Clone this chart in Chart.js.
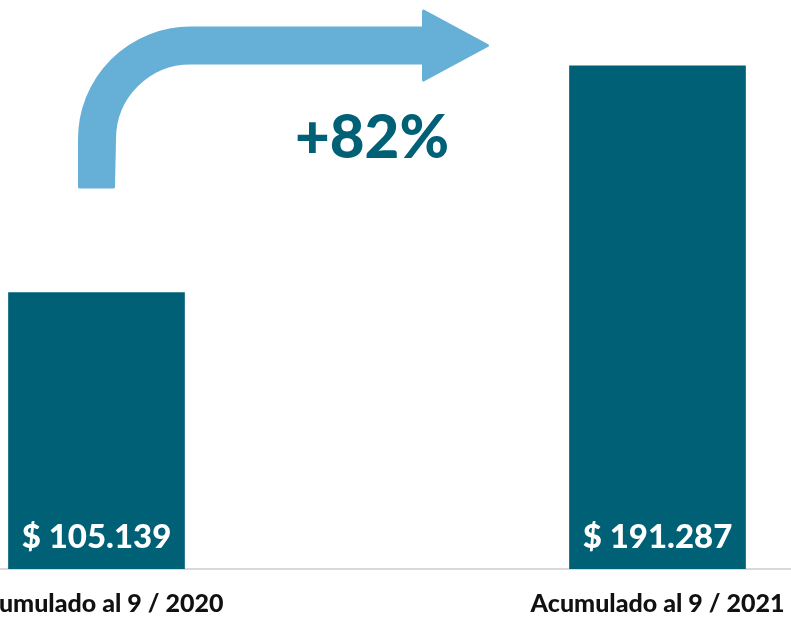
<!DOCTYPE html>
<html>
<head>
<meta charset="utf-8">
<script src="https://cdn.jsdelivr.net/npm/chart.js@4"></script>
<style>
  html, body { margin: 0; padding: 0; background: #ffffff; overflow: hidden; width: 791px; height: 620px; }
  #wrap { position: relative; width: 791px; height: 620px; overflow: hidden; }
  #c { position: absolute; left: -184px; top: 0; }
</style>
</head>
<body>
<div id="wrap"><canvas id="c" width="1122" height="639"></canvas></div>
<script>
const categories = ["Acumulado al 9 / 2020", "Acumulado al 9 / 2021"];
const values = [105139, 191287];
const valuePrefix = "$ ";
const yMax = 200000;

const BAR = "#006075";
const ARROW = "#66afd6";
const FONT = "Lato, 'Open Sans', sans-serif";

function fmt(v) {
  return valuePrefix + String(v).replace(/\B(?=(\d{3})+(?!\d))/g, ".");
}

const overlay = {
  id: "overlay",
  afterDatasetsDraw(chart) {
    const ctx = chart.ctx;
    const meta = chart.getDatasetMeta(0);
    const b1 = meta.data[0], b2 = meta.data[1];
    // value labels inside the bars
    ctx.save();
    ctx.fillStyle = "#ffffff";
    ctx.font = "900 33px " + FONT;
    ctx.textAlign = "center";
    ctx.textBaseline = "alphabetic";
    meta.data.forEach((el, i) => {
      ctx.fillText(fmt(values[i]), el.x, el.base - 21);
    });
    ctx.restore();

    // curved arrow
    const cx = b1.x;
    const L = cx - 17, R = cx + 17;
    const bandTop = 28, bandBot = 63;
    const arcCx = L + 111, arcCy = bandTop + 111;
    const headX = L + 344, tipX = L + 408;
    ctx.save();
    ctx.fillStyle = ARROW;
    ctx.strokeStyle = ARROW;
    ctx.lineJoin = "round";
    ctx.lineWidth = 3;
    ctx.beginPath();
    ctx.moveTo(L, 187);
    ctx.lineTo(L, arcCy);
    ctx.arc(arcCx, arcCy, 111, Math.PI, 1.5 * Math.PI);
    ctx.lineTo(headX, bandTop);
    ctx.lineTo(headX, 11);
    ctx.lineTo(tipX, 45.5);
    ctx.lineTo(headX, 80);
    ctx.lineTo(headX, bandBot);
    ctx.lineTo(arcCx, bandBot);
    ctx.arc(arcCx, arcCy, 76, 1.5 * Math.PI, Math.PI, true);
    ctx.lineTo(R, 187);
    ctx.closePath();
    ctx.fill();
    ctx.stroke();
    ctx.restore();

    // growth label
    const pct = Math.round((values[1] / values[0] - 1) * 100);
    ctx.save();
    ctx.fillStyle = BAR;
    ctx.font = "900 60px " + FONT;
    ctx.textAlign = "center";
    ctx.textBaseline = "alphabetic";
    ctx.fillText("+" + pct + "%", (b1.x + b2.x) / 2 - 5, 158);
    ctx.restore();
  }
};

new Chart(document.getElementById("c"), {
  type: "bar",
  data: {
    labels: categories,
    datasets: [{
      data: values,
      backgroundColor: BAR,
      borderWidth: 0,
      barThickness: 176
    }]
  },
  options: {
    responsive: false,
    animation: false,
    devicePixelRatio: 1,
    layout: { padding: { top: 43, left: 0, right: 0, bottom: 0 } },
    plugins: { legend: { display: false }, tooltip: { enabled: false } },
    scales: {
      x: {
        grid: { display: false, drawTicks: false },
        border: { display: true, color: "#d9d9d9", width: 2 },
        ticks: {
          color: "#111111",
          font: { family: FONT, size: 25, weight: "900" },
          padding: 20,
          maxRotation: 0,
          autoSkip: false
        }
      },
      y: {
        display: false,
        min: 0,
        max: yMax
      }
    }
  },
  plugins: [overlay]
});
</script>
</body>
</html>
